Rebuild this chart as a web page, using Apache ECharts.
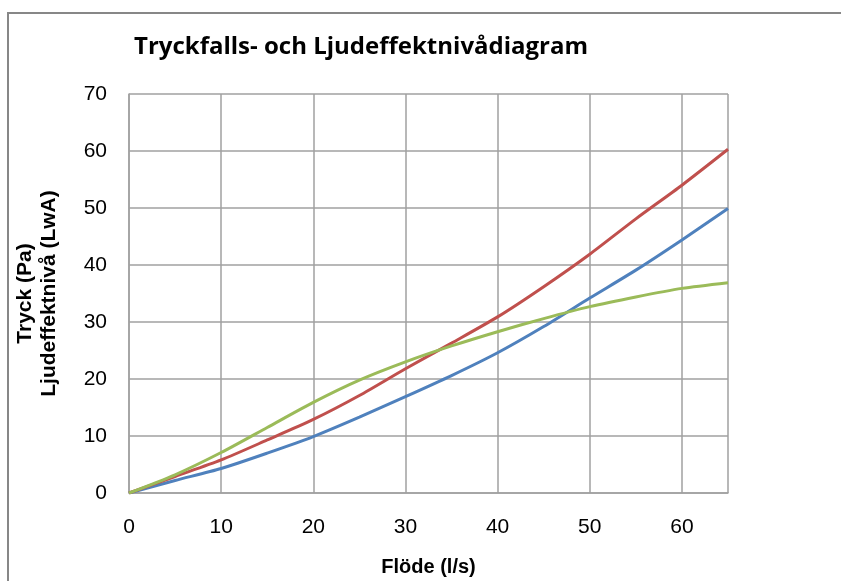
<!DOCTYPE html>
<html>
<head>
<meta charset="utf-8">
<script src="https://cdn.jsdelivr.net/npm/echarts@6/dist/echarts.min.js"></script>
<style>
  html, body { margin: 0; padding: 0; background: #fff; }
  #chart { width: 841px; height: 581px; }
</style>
</head>
<body>
<div id="chart"></div>
<script>
// flöde (l/s)
const flow = [0, 5, 10, 15, 20, 25, 30, 35, 40, 45, 50, 55, 60, 65]
// tre kurvor
const blueVals = [0, 2.2, 4.3, 7.0, 9.9, 13.3, 16.9, 20.6, 24.6, 29.2, 34.2, 39.1, 44.4, 49.9]
const redVals = [0, 2.9, 5.8, 9.3, 12.9, 17.1, 21.8, 26.3, 30.9, 36.2, 41.9, 48.1, 54.0, 60.3]
const greenVals = [0, 3.2, 7.1, 11.5, 15.9, 19.8, 23.0, 25.8, 28.3, 30.6, 32.7, 34.4, 35.9, 36.9]

const pairs = (ys) => flow.map((x, i) => [x, ys[i]])

const chart = echarts.init(document.getElementById('chart'))

const lineSeries = (name, color, vals) => ({
  name: name,
  type: 'line',
  smooth: 0.25,
  showSymbol: false,
  data: pairs(vals),
  lineStyle: { color: color, width: 3 },
  itemStyle: { color: color }
})

const option = {
  animation: false,
  backgroundColor: '#fff',
  title: {
    text: 'Tryckfalls- och Ljudeffektnivådiagram',
    left: 129,
    top: 30,
    textStyle: {
      fontFamily: 'Open Sans',
      fontWeight: 'bold',
      fontSize: 24,
      color: '#000'
    }
  },
  graphic: [{
    type: 'rect',
    shape: { x: 8, y: 13, width: 900, height: 700 },
    style: { fill: 'none', stroke: '#878787', lineWidth: 2 },
    silent: true
  }],
  grid: {
    left: 129,
    top: 94,
    right: 113,
    bottom: 88,
    containLabel: false,
    outerBoundsMode: 'none'
  },
  xAxis: {
    type: 'value',
    min: 0,
    max: 65,
    interval: 10,
    name: 'Flöde (l/s)',
    nameLocation: 'middle',
    nameGap: 64,
    nameTextStyle: {
      fontFamily: 'Liberation Sans',
      fontWeight: 'bold',
      fontSize: 20,
      color: '#000'
    },
    axisLine: { show: true, lineStyle: { color: '#a0a0a0', width: 1.5 } },
    axisTick: { show: false },
    axisLabel: {
      show: true,
      margin: 24,
      color: '#000',
      fontFamily: 'Liberation Sans',
      fontSize: 21,
      showMaxLabel: false
    },
    splitLine: { show: true, lineStyle: { color: '#a0a0a0', width: 1.5 } }
  },
  yAxis: {
    type: 'value',
    min: 0,
    max: 70,
    interval: 10,
    name: 'Tryck (Pa)\nLjudeffektnivå (LwA)',
    nameLocation: 'middle',
    nameRotate: 90,
    nameGap: 68,
    nameTextStyle: {
      fontFamily: 'Liberation Sans',
      fontWeight: 'bold',
      fontSize: 21,
      lineHeight: 24,
      color: '#000'
    },
    axisLine: { show: true, lineStyle: { color: '#a0a0a0', width: 1.5 } },
    axisTick: { show: false },
    axisLabel: {
      show: true,
      margin: 22,
      color: '#000',
      fontFamily: 'Liberation Sans',
      fontSize: 21
    },
    splitLine: { show: true, lineStyle: { color: '#a0a0a0', width: 1.5 } }
  },
  series: [
    lineSeries('Blå', '#4F81BD', blueVals),
    lineSeries('Röd', '#C0504D', redVals),
    lineSeries('Grön', '#9BBB59', greenVals)
  ]
}

chart.setOption(option, true)
</script>
</body>
</html>
